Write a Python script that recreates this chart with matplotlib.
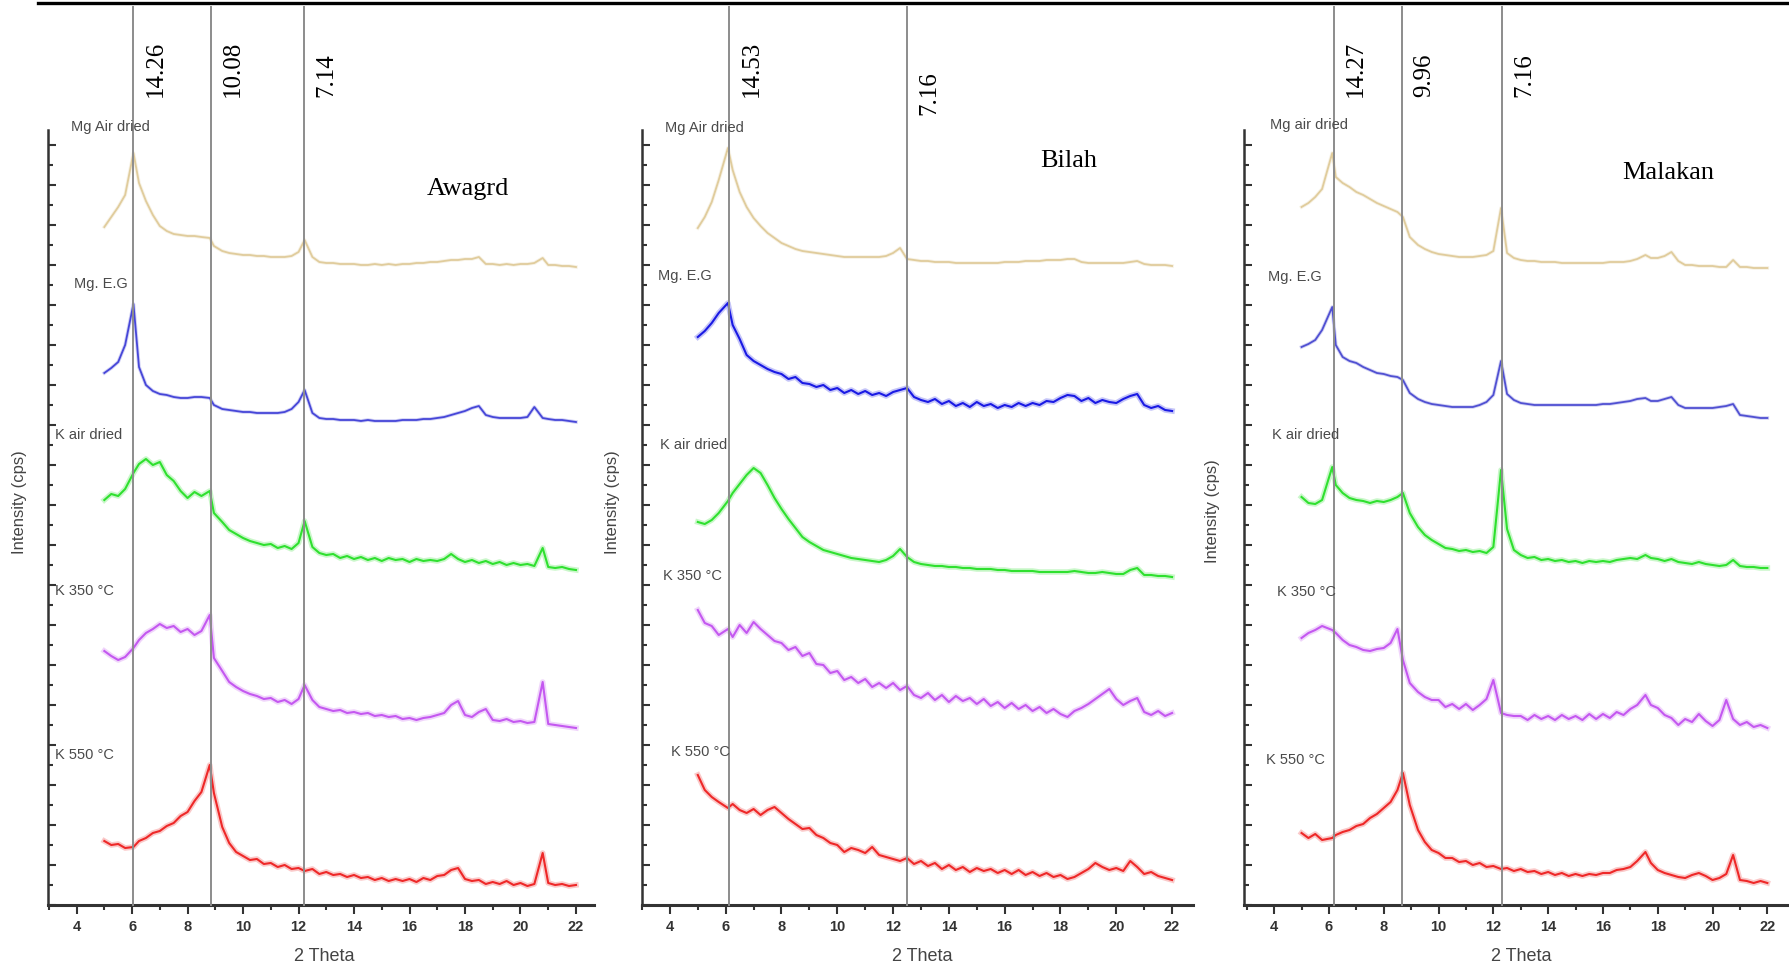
import matplotlib
matplotlib.use("Agg")
import matplotlib.pyplot as plt
from matplotlib import transforms
from matplotlib.lines import Line2D
from matplotlib.ticker import MultipleLocator

# ---- data: 2-theta grids (one per sample) and intensity traces (arbitrary cps) ----
AWAGRD_X = [5.0, 5.25, 5.5, 5.75, 6.05, 6.25, 6.5, 6.75, 7.0, 7.25, 7.5, 7.75,
            8.0, 8.25, 8.5, 8.8, 8.95, 9.25, 9.5, 9.75, 10.0, 10.25, 10.5, 10.75,
            11.0, 11.25, 11.5, 11.75, 12.0, 12.22, 12.5, 12.75, 13.0, 13.25, 13.5, 13.75,
            14.0, 14.25, 14.5, 14.75, 15.0, 15.25, 15.5, 15.75, 16.0, 16.25, 16.5, 16.75,
            17.0, 17.25, 17.5, 17.75, 18.0, 18.25, 18.5, 18.75, 19.0, 19.25, 19.5, 19.75,
            20.0, 20.25, 20.5, 20.8, 21.0, 21.25, 21.5, 21.75, 22.0]
AWAGRD_MG_AIR = [678, 688, 698, 710, 752, 722, 704, 690, 679, 674, 671, 670,
                 669, 669, 668, 667, 659, 654, 652, 651, 650, 650, 649, 649,
                 648, 648, 648, 649, 653, 665, 648, 643, 642, 642, 641, 641,
                 641, 640, 640, 641, 640, 641, 640, 641, 641, 642, 642, 643,
                 643, 644, 645, 645, 646, 646, 648, 641, 641, 640, 641, 640,
                 641, 641, 642, 647, 640, 640, 639, 639, 638]
AWAGRD_MG_EG = [532, 537, 543, 560, 601, 538, 520, 514, 511, 510, 508, 507,
                507, 508, 508, 507, 500, 496, 495, 494, 493, 493, 492, 492,
                492, 492, 493, 496, 503, 515, 492, 487, 486, 486, 485, 485,
                485, 484, 485, 484, 484, 484, 484, 485, 485, 485, 486, 486,
                487, 488, 490, 492, 494, 497, 499, 490, 488, 487, 487, 487,
                487, 488, 498, 487, 486, 485, 485, 484, 483]
AWAGRD_K_AIR = [405, 411, 409, 416, 432, 441, 446, 440, 443, 430, 424, 414,
                407, 413, 409, 414, 392, 383, 375, 371, 367, 364, 362, 360,
                361, 357, 359, 356, 362, 384, 358, 352, 350, 351, 347, 349,
                346, 348, 345, 347, 344, 347, 345, 346, 343, 346, 344, 345,
                344, 346, 351, 346, 343, 345, 342, 344, 341, 343, 340, 342,
                340, 341, 339, 357, 338, 337, 338, 336, 335]
AWAGRD_K350 = [254, 249, 245, 248, 257, 265, 272, 276, 281, 277, 279, 273,
               276, 270, 274, 290, 247, 234, 223, 218, 214, 211, 209, 206,
               207, 203, 205, 201, 206, 220, 205, 198, 196, 194, 195, 192,
               193, 191, 192, 189, 190, 188, 189, 186, 187, 185, 187, 188,
               190, 192, 200, 204, 190, 188, 193, 196, 185, 184, 186, 183,
               184, 182, 183, 223, 181, 180, 179, 178, 177]
AWAGRD_K550 = [64, 60, 61, 57, 58, 64, 67, 72, 74, 79, 82, 89,
               93, 104, 113, 140, 112, 78, 62, 53, 49, 45, 46, 41,
               42, 38, 40, 36, 37, 34, 36, 31, 33, 30, 31, 28,
               30, 27, 28, 25, 27, 24, 26, 24, 26, 23, 27, 25,
               29, 30, 35, 37, 26, 24, 25, 21, 23, 21, 24, 20,
               22, 19, 21, 52, 22, 20, 21, 19, 20]

BILAH_X = [5.0, 5.25, 5.5, 5.75, 6.08, 6.25, 6.5, 6.75, 7.0, 7.25, 7.5, 7.75,
           8.0, 8.25, 8.5, 8.75, 9.0, 9.25, 9.5, 9.75, 10.0, 10.25, 10.5, 10.75,
           11.0, 11.25, 11.5, 11.75, 12.0, 12.25, 12.5, 12.75, 13.0, 13.25, 13.5, 13.75,
           14.0, 14.25, 14.5, 14.75, 15.0, 15.25, 15.5, 15.75, 16.0, 16.25, 16.5, 16.75,
           17.0, 17.25, 17.5, 17.75, 18.0, 18.25, 18.5, 18.75, 19.0, 19.25, 19.5, 19.75,
           20.0, 20.25, 20.5, 20.75, 21.0, 21.25, 21.5, 21.75, 22.0]
BILAH_MG_AIR = [677, 688, 703, 725, 757, 735, 713, 698, 687, 679, 672, 667,
                662, 659, 656, 654, 653, 652, 651, 650, 649, 648, 648, 648,
                648, 648, 648, 649, 652, 657, 646, 645, 644, 644, 643, 643,
                643, 642, 642, 642, 642, 642, 642, 642, 643, 643, 643, 644,
                644, 644, 645, 645, 645, 646, 646, 643, 642, 642, 642, 642,
                642, 642, 643, 644, 641, 640, 640, 640, 639]
BILAH_MG_EG = [568, 574, 582, 592, 602, 580, 566, 550, 544, 540, 536, 533,
               531, 526, 528, 522, 521, 518, 520, 515, 517, 512, 515, 511,
               514, 510, 512, 509, 513, 515, 517, 508, 505, 503, 506, 501,
               504, 499, 502, 498, 503, 499, 501, 497, 500, 498, 502, 499,
               502, 500, 504, 503, 507, 510, 509, 504, 507, 502, 505, 503,
               502, 506, 509, 511, 500, 497, 499, 495, 494]
BILAH_K_AIR = [383, 381, 385, 392, 404, 412, 421, 430, 437, 432, 420, 407,
               396, 386, 377, 368, 363, 359, 355, 353, 351, 349, 347, 346,
               345, 344, 343, 345, 349, 356, 348, 343, 341, 340, 339, 339,
               338, 338, 337, 337, 336, 336, 336, 335, 335, 334, 334, 334,
               334, 333, 333, 333, 333, 333, 334, 333, 332, 332, 333, 332,
               331, 331, 335, 337, 330, 330, 329, 329, 328]
BILAH_K350 = [295, 282, 279, 270, 276, 268, 280, 272, 283, 276, 270, 264,
              262, 255, 258, 249, 252, 241, 240, 232, 234, 225, 228, 222,
              226, 218, 222, 217, 222, 215, 219, 210, 207, 212, 205, 210,
              203, 209, 204, 207, 201, 206, 199, 203, 197, 202, 196, 200,
              194, 198, 192, 196, 191, 188, 194, 197, 201, 206, 211, 216,
              206, 200, 204, 207, 193, 190, 194, 189, 192]
BILAH_K550 = [130, 115, 108, 103, 97, 101, 95, 92, 96, 90, 95, 98,
              92, 86, 81, 76, 77, 70, 67, 62, 60, 53, 57, 55,
              52, 58, 50, 48, 46, 44, 47, 41, 44, 39, 42, 36,
              40, 35, 38, 33, 37, 34, 36, 32, 35, 31, 35, 30,
              33, 29, 32, 28, 30, 26, 28, 32, 36, 42, 38, 35,
              37, 34, 44, 38, 31, 33, 29, 27, 25]

MALAKAN_X = [5.0, 5.25, 5.5, 5.75, 6.12, 6.25, 6.5, 6.75, 7.0, 7.25, 7.5, 7.75,
             8.0, 8.25, 8.5, 8.7, 8.95, 9.25, 9.5, 9.75, 10.0, 10.25, 10.5, 10.75,
             11.0, 11.25, 11.5, 11.75, 12.0, 12.28, 12.5, 12.75, 13.0, 13.25, 13.5, 13.75,
             14.0, 14.25, 14.5, 14.75, 15.0, 15.25, 15.5, 15.75, 16.0, 16.25, 16.5, 16.75,
             17.0, 17.25, 17.55, 17.75, 18.0, 18.25, 18.5, 18.75, 19.0, 19.25, 19.5, 19.75,
             20.0, 20.25, 20.5, 20.75, 21.0, 21.25, 21.5, 21.75, 22.0]
MALAKAN_MG_AIR = [698, 702, 708, 716, 752, 728, 722, 718, 713, 710, 706, 702,
                  699, 696, 693, 688, 668, 660, 656, 653, 651, 650, 649, 648,
                  648, 648, 649, 650, 654, 697, 652, 647, 645, 644, 644, 643,
                  643, 643, 642, 642, 642, 642, 642, 642, 642, 643, 643, 643,
                  644, 646, 650, 647, 647, 649, 653, 644, 640, 640, 639, 639,
                  639, 638, 638, 645, 638, 638, 637, 637, 637]
MALAKAN_MG_EG = [558, 561, 565, 575, 598, 560, 548, 544, 542, 538, 535, 532,
                 531, 529, 528, 525, 512, 506, 503, 501, 500, 499, 498, 498,
                 498, 498, 500, 503, 510, 544, 511, 505, 502, 501, 500, 500,
                 500, 500, 500, 500, 500, 500, 500, 500, 501, 501, 502, 503,
                 504, 506, 507, 504, 504, 506, 508, 500, 497, 497, 497, 497,
                 497, 498, 499, 501, 490, 489, 488, 487, 487]
MALAKAN_K_AIR = [408, 402, 401, 405, 438, 420, 412, 407, 405, 404, 402, 404,
                 403, 405, 408, 412, 392, 378, 370, 365, 361, 357, 356, 354,
                 355, 353, 354, 352, 358, 435, 376, 355, 350, 347, 348, 345,
                 346, 344, 345, 343, 344, 342, 344, 343, 344, 343, 345, 346,
                 347, 346, 350, 347, 346, 344, 346, 343, 342, 341, 343, 341,
                 340, 339, 340, 345, 339, 338, 338, 337, 337]
MALAKAN_K350 = [267, 272, 275, 279, 275, 272, 265, 260, 258, 255, 254, 256,
                257, 262, 276, 245, 222, 213, 208, 205, 205, 198, 201, 196,
                201, 195, 200, 206, 225, 192, 190, 189, 189, 185, 190, 186,
                189, 185, 190, 186, 189, 185, 191, 186, 191, 187, 193, 190,
                196, 200, 210, 200, 197, 190, 187, 180, 186, 183, 191, 184,
                179, 185, 205, 186, 180, 183, 178, 180, 177]
MALAKAN_K550 = [72, 67, 71, 65, 67, 70, 73, 75, 79, 81, 87, 91,
                97, 103, 115, 132, 100, 75, 63, 55, 52, 47, 47, 43,
                44, 40, 42, 38, 39, 36, 37, 34, 36, 33, 34, 31,
                33, 30, 32, 29, 31, 29, 31, 30, 32, 32, 35, 36,
                38, 44, 53, 42, 35, 32, 30, 28, 27, 30, 32, 29,
                25, 27, 31, 50, 25, 24, 22, 24, 22]

SAMPLES = ["Awagrd", "Bilah", "Malakan"]
TREATMENTS = ["Mg Air dried", "Mg. E.G", "K air dried", "K 350 °C", "K 550 °C"]
MALAKAN_TREATMENTS = ["Mg air dried", "Mg. E.G", "K air dried", "K 350 °C", "K 550 °C"]

AWAGRD_PEAKS = [6.04, 8.85, 12.2]
AWAGRD_D = ["14.26", "10.08", "7.14"]
BILAH_PEAKS = [6.12, 12.5]
BILAH_D = ["14.53", "7.16"]
MALAKAN_PEAKS = [6.18, 8.67, 12.32]
MALAKAN_D = ["14.27", "9.96", "7.16"]

TRACE_COLORS = ["#e0cc9c", None, "#2fe02f", "#c458f0", "#ee2828"]
BLUE = {"Awagrd": "#4646d8", "Bilah": "#1a1ae4", "Malakan": "#5050d2"}

W, H = 1789, 971
fig = plt.figure(figsize=(W / 100, H / 100), dpi=100)
plt.rcParams["font.family"] = ["Liberation Sans", "DejaVu Sans"]
SERIF = ["Liberation Serif", "DejaVu Serif"]


def px_axes(left, top, right, bottom):
    return fig.add_axes([left / W, 1 - bottom / H, (right - left) / W, (bottom - top) / H])


panels = [
    dict(name="Awagrd", box=(48, 130, 594, 905), xlim=(2.97, 22.65), x=AWAGRD_X,
         ys=[AWAGRD_MG_AIR, AWAGRD_MG_EG, AWAGRD_K_AIR, AWAGRD_K350, AWAGRD_K550],
         peaks=AWAGRD_PEAKS, dlabels=AWAGRD_D, dtop=[97, 97, 97], names=TREATMENTS,
         lab_pos=[(3.80, 778), (3.91, 621), (3.22, 470), (3.22, 314), (3.22, 150)],
         title_pos=(18.1, 716), ylab=(20, 502), xlab=324),
    dict(name="Bilah", box=(642, 130, 1193, 905), xlim=(3.0, 22.75), x=BILAH_X,
         ys=[BILAH_MG_AIR, BILAH_MG_EG, BILAH_K_AIR, BILAH_K350, BILAH_K550],
         peaks=BILAH_PEAKS, dlabels=BILAH_D, dtop=[97, 115], names=TREATMENTS,
         lab_pos=[(3.82, 777), (3.57, 629), (3.65, 460), (3.75, 329), (4.04, 153)],
         title_pos=(18.3, 744), ylab=(613, 502), xlab=922),
    dict(name="Malakan", box=(1244, 130, 1789, 905), xlim=(2.9, 22.79), x=MALAKAN_X,
         ys=[MALAKAN_MG_AIR, MALAKAN_MG_EG, MALAKAN_K_AIR, MALAKAN_K350, MALAKAN_K550],
         peaks=MALAKAN_PEAKS, dlabels=MALAKAN_D, dtop=[97, 97, 97], names=MALAKAN_TREATMENTS,
         lab_pos=[(3.85, 780), (3.78, 628), (3.92, 470), (4.1, 313), (3.7, 145)],
         title_pos=(18.37, 732), ylab=(1212, 511), xlab=1521),
]

for p in panels:
    left, top, right, bottom = p["box"]
    ax = px_axes(left, top, right, bottom)
    ax.set_facecolor("none")
    ax.set_xlim(*p["xlim"])
    ax.set_ylim(0, 775)

    for i, y in enumerate(p["ys"]):
        assert len(y) == len(p["x"])
        color = BLUE[p["name"]] if i == 1 else TRACE_COLORS[i]
        noisy = i >= 2 or (i == 1 and p["name"] == "Bilah")
        # soft halo underneath to mimic the fuzzy scanned traces
        ax.plot(p["x"], y, color=color, lw=4.0 if noisy else 2.6, alpha=0.25, zorder=2,
                solid_joinstyle="round")
        ax.plot(p["x"], y, color=color, lw=1.5 if noisy else 1.3, zorder=2)

    # reference lines for basal spacings, running up to the top rule
    top_frac = (bottom - 7) / (bottom - top)
    tr = transforms.blended_transform_factory(ax.transData, fig.transFigure)
    for xv, lab, dt in zip(p["peaks"], p["dlabels"], p["dtop"]):
        ax.axvline(xv, 0, top_frac, color="#8c8c8c", lw=1.4, clip_on=False, zorder=3)
        ax.text(xv + 0.8, 1 - dt / H, lab, transform=tr, rotation=90, ha="center",
                va="bottom", fontsize=18, family=SERIF, color="black")

    for name, (lx, ly) in zip(p["names"], p["lab_pos"]):
        ax.text(lx, ly, name, fontsize=10.5, color="#4a4a4a", ha="left", va="center")

    ax.text(*p["title_pos"], p["name"], fontsize=19, family=SERIF, ha="center", va="center")

    for s in ("top", "right"):
        ax.spines[s].set_visible(False)
    ax.spines["left"].set_linewidth(1.8)
    ax.spines["left"].set_color("#333333")
    ax.spines["bottom"].set_linewidth(2.2)
    ax.spines["bottom"].set_color("#333333")

    ax.xaxis.set_major_locator(MultipleLocator(2))
    ax.xaxis.set_minor_locator(MultipleLocator(1))
    ax.yaxis.set_major_locator(MultipleLocator(40))
    ax.yaxis.set_minor_locator(MultipleLocator(20))
    ax.tick_params(axis="x", which="major", direction="out", length=6.5, width=1.5,
                   color="#333333", labelsize=10.5, labelcolor="#333333", pad=4)
    ax.tick_params(axis="x", which="minor", direction="out", length=3.6, width=1.5,
                   color="#333333")
    ax.tick_params(axis="y", which="major", direction="in", length=5.8, width=1.5,
                   color="#333333", labelleft=False)
    ax.tick_params(axis="y", which="minor", direction="in", length=3.6, width=1.5,
                   color="#333333")
    for t in ax.get_xticklabels():
        t.set_fontweight("bold")

    yx, yy = p["ylab"]
    fig.text(yx / W, 1 - yy / H, "Intensity (cps)", rotation=90, ha="center",
             va="center", fontsize=12, color="#444444")
    fig.text(p["xlab"] / W, 1 - 956 / H, "2 Theta", ha="center", va="center",
             fontsize=13, color="#444444")

# thick rule at the top of the page
fig.add_artist(Line2D([38 / W, 1], [1 - 2.7 / H, 1 - 2.7 / H], transform=fig.transFigure,
                      color="black", lw=2.4))

fig.savefig("out.png", dpi=100)
